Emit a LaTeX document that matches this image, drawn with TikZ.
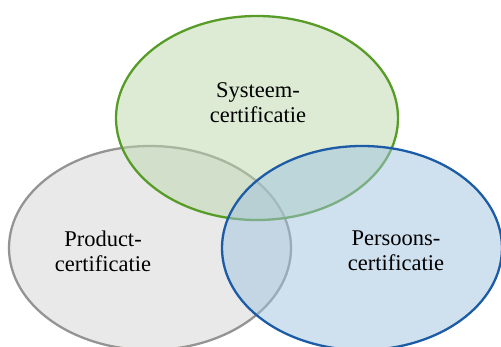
\documentclass[tikz,border=0pt]{standalone}
\usepackage{fontspec}
\setmainfont{Liberation Serif}
\usepackage{tikz}
\usetikzlibrary{shapes.geometric, positioning}

\definecolor{systeemfill}{RGB}{187,215,171}
\definecolor{systeemline}{RGB}{88,156,40}
\definecolor{productfill}{RGB}{211,211,211}
\definecolor{productline}{RGB}{150,147,147}
\definecolor{persoonfill}{RGB}{159,193,223}
\definecolor{persoonline}{RGB}{28,92,166}

\begin{document}
\begin{tikzpicture}[
    x=1pt, y=-1pt,
    venn/.style={ellipse, draw, line width=2.3pt, fill opacity=0.5, draw opacity=1, inner sep=0pt, minimum width=282pt, minimum height=204pt},
    label/.style={align=center, font=\fontsize{22.5}{25}\selectfont, inner sep=0pt}
]
\useasboundingbox (0,0) rectangle (501,347);
\clip (0,0) rectangle (501,347);

\node[venn, fill=productfill, draw=productline] (product) at (150,248) {};
\node[venn, fill=systeemfill, draw=systeemline] (systeem) at (257,118) {};
\node[venn, fill=persoonfill, draw=persoonline, minimum width=280pt] (persoon) at (362,248) {};

\node[label] (systeemtext) at (258,103) {Systeem-\\certificatie};
\node[label] (producttext) at (103,251) {Product-\\certificatie};
\node[label] (persoontext) at (396,251) {Persoons-\\certificatie};

\end{tikzpicture}
\end{document}
